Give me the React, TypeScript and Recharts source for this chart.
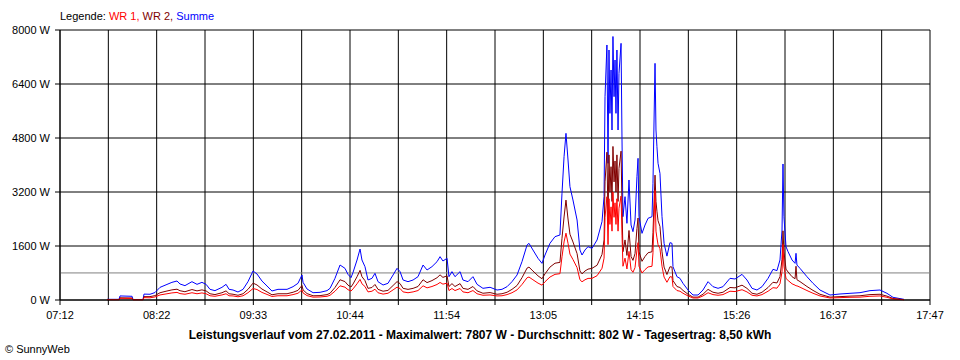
import React from "react";
import { LineChart, Line, XAxis, YAxis, CartesianGrid, ReferenceLine } from "recharts";

// time in minutes since midnight
const times = [
  466.3, 475.1, 475.8, 484.6, 485.3, 492.6, 493.3, 497.7, 501.3, 505.0, 509.4, 513.7, 517.4, 519.6, 523.2, 528.3, 532.0, 535.6, 538.6, 541.5,
  545.1, 550.2, 553.2, 555.4, 558.3, 561.9, 565.6, 569.2, 572.9, 575.8, 579.4, 583.1, 586.7, 591.1, 597.7, 602.1, 605.7, 608.6, 609.4, 612.3,
  616.7, 621.8, 626.9, 629.1, 632.7, 636.4, 640.0, 642.2, 644.4, 645.9, 648.8, 651.0, 652.4, 654.6, 656.8, 659.7, 661.9, 664.1, 667.8, 671.4,
  675.1, 678.0, 680.2, 682.4, 686.0, 689.7, 693.3, 697.0, 699.9, 703.5, 707.2, 709.4, 711.5, 714.5, 715.9, 718.1, 720.3, 724.0, 726.1, 729.8,
  733.4, 736.4, 740.7, 745.9, 751.0, 754.6, 758.3, 761.9, 765.6, 769.2, 772.9, 774.3, 777.2, 780.9, 783.8, 786.0, 789.6, 793.3, 796.9, 798.4,
  799.9, 801.3, 802.8, 804.2, 806.4, 809.4, 811.5, 813.0, 815.2, 817.4, 820.3, 824.0, 827.6, 829.1, 829.8, 831.2, 832.0, 832.7, 833.4, 834.2,
  834.9, 835.6, 836.4, 837.1, 837.8, 838.5, 839.3, 840.0, 841.5, 842.2, 842.9, 844.4, 845.8, 847.3, 848.8, 850.2, 851.7, 853.1, 853.9, 854.6,
  856.8, 859.0, 861.2, 864.1, 864.8, 866.3, 867.0, 867.7, 868.5, 869.9, 871.4, 872.9, 875.0, 877.2, 878.7, 879.4, 882.3, 884.5, 886.7, 890.4,
  894.0, 897.7, 901.3, 905.0, 908.6, 912.3, 915.9, 921.0, 924.7, 929.8, 933.4, 937.1, 940.7, 944.4, 948.8, 952.4, 955.3, 957.5, 959.0, 959.7,
  960.4, 961.9, 963.4, 966.3, 968.5, 969.2, 969.9, 972.1, 977.2, 981.6, 986.7, 994.0, 1001.3, 1008.6, 1015.9, 1023.2, 1030.5, 1035.6, 1040.0, 1048.0,
];

const summe = [
  20, 20, 120, 110, 15, 15, 175, 170, 220, 375, 450, 523, 563, 474, 425, 543, 464, 523, 464, 316,
  277, 375, 464, 316, 296, 237, 316, 543, 859, 770, 563, 415, 267, 316, 316, 395, 494, 741, 523, 326,
  217, 227, 277, 346, 642, 1037, 938, 760, 662, 820, 1185, 1511, 1185, 988, 593, 642, 790, 543, 444, 494,
  741, 938, 840, 593, 543, 593, 691, 1037, 889, 988, 1136, 1284, 1156, 1235, 691, 840, 691, 840, 593, 543,
  691, 464, 346, 376, 296, 316, 395, 543, 741, 1136, 1630, 1679, 1482, 1235, 1086, 1333, 1679, 1877, 1926, 3160,
  4247, 4938, 4148, 3358, 2963, 2370, 1482, 1333, 1482, 1580, 1531, 1778, 2321, 3062, 6025, 7556, 4050, 7407, 5530, 6815,
  5037, 7807, 6025, 7111, 5531, 7407, 5037, 6716, 7605, 4741, 2469, 3062, 2272, 3556, 2222, 2025, 2370, 3654, 4198, 2469,
  1975, 2222, 2420, 2469, 3457, 7012, 5037, 4543, 4050, 3753, 2469, 1679, 1300, 1699, 1679, 988, 691, 642, 494, 296,
  148, 148, 296, 543, 395, 346, 395, 642, 622, 760, 593, 346, 296, 395, 642, 909, 870, 1185, 2074, 4030,
  2469, 1580, 1432, 1185, 1086, 1383, 1036, 938, 691, 494, 296, 148, 178, 198, 217, 277, 296, 198, 79, 20,
];

const wr2 = [
  10, 10, 65, 60, 8, 8, 100, 100, 130, 215, 260, 300, 320, 275, 245, 310, 270, 300, 270, 185,
  160, 215, 270, 185, 170, 140, 185, 315, 500, 445, 325, 240, 155, 185, 185, 230, 285, 430, 300, 190,
  125, 130, 160, 200, 370, 600, 545, 440, 385, 475, 690, 880, 690, 575, 345, 370, 460, 315, 260, 285,
  430, 545, 485, 345, 315, 345, 400, 600, 515, 575, 660, 745, 670, 715, 400, 485, 400, 485, 345, 315,
  400, 270, 200, 220, 170, 185, 230, 315, 430, 660, 945, 975, 860, 715, 630, 775, 975, 1090, 1115, 1830,
  2460, 2960, 2400, 1950, 1720, 1375, 860, 775, 860, 915, 938, 1030, 1350, 1780, 3500, 4380, 2350, 4300, 3200, 3950,
  2920, 4550, 3500, 4120, 3200, 4300, 2920, 3900, 4410, 2750, 1430, 1780, 1320, 2060, 1290, 1175, 1375, 2120, 2430, 1430,
  1145, 1290, 1400, 1430, 2000, 3700, 2920, 2630, 2350, 2180, 1430, 975, 755, 985, 975, 575, 400, 370, 285, 170,
  85, 85, 170, 315, 230, 200, 230, 370, 360, 440, 345, 200, 170, 230, 370, 525, 505, 690, 1200, 2050,
  1430, 915, 830, 690, 630, 1000, 600, 545, 400, 285, 170, 85, 100, 115, 125, 160, 170, 115, 45, 10,
];

const wr1 = [
  10, 10, 50, 45, 7, 7, 70, 65, 90, 150, 180, 210, 225, 190, 170, 215, 185, 210, 185, 125,
  110, 150, 185, 125, 120, 95, 125, 215, 340, 310, 225, 165, 105, 125, 125, 160, 200, 300, 210, 130,
  85, 90, 110, 140, 260, 420, 380, 305, 265, 330, 480, 610, 480, 400, 240, 260, 320, 215, 175, 200,
  300, 380, 340, 240, 215, 240, 280, 420, 360, 400, 460, 520, 470, 500, 280, 340, 280, 340, 240, 215,
  280, 185, 140, 150, 120, 125, 160, 215, 300, 460, 660, 680, 600, 500, 440, 540, 680, 760, 780, 1280,
  1720, 1980, 1680, 1360, 1200, 960, 600, 540, 600, 640, 642, 720, 940, 1240, 2450, 3060, 1640, 3000, 2240, 2760,
  2040, 3200, 2450, 2880, 2240, 3000, 2040, 2720, 3080, 1920, 1000, 1240, 920, 1440, 900, 820, 960, 1480, 1700, 1000,
  800, 900, 980, 1000, 1400, 3250, 2040, 1840, 1640, 1520, 1000, 680, 525, 690, 680, 400, 280, 260, 200, 120,
  60, 60, 120, 215, 160, 140, 160, 260, 250, 305, 240, 140, 120, 160, 260, 365, 350, 480, 840, 1650,
  1000, 640, 580, 480, 440, 420, 420, 380, 280, 200, 120, 60, 70, 80, 85, 110, 120, 80, 30, 8,
];

const xTickLabels = ["07:12", "08:22", "09:33", "10:44", "11:54", "13:05", "14:15", "15:26", "16:37", "17:47"];
const yTicks = [0, 1600, 3200, 4800, 6400, 8000];
const averageW = 802;

const xStart = 432; // 07:12
const xEnd = 1067; // 17:47
const gridTicks = Array.from({ length: 19 }, (_, i) => xStart + (i * (xEnd - xStart)) / 18);

const rows = times.map((t, i) => ({ t, summe: summe[i], wr2: wr2[i], wr1: wr1[i] }));

const font = "'Liberation Sans', Arial, sans-serif";

export default function App() {
  return (
    <div style={{ position: "absolute", left: 0, top: 0, width: 960, height: 360, background: "#fff", fontFamily: font }}>
      <LineChart width={960} height={360} data={rows} margin={{ top: 30, right: 30, bottom: 30, left: 0 }}>
        <CartesianGrid stroke="#000" strokeWidth={1} />
        <XAxis
          dataKey="t"
          type="number"
          domain={[xStart, xEnd]}
          ticks={gridTicks}
          interval={0}
          height={30}
          tickSize={5}
          tickMargin={6}
          stroke="#000"
          tick={{ fill: "#000", fontSize: 11, fontFamily: font }}
          tickFormatter={(v: number) => {
            const idx = gridTicks.findIndex((g) => Math.abs(g - v) < 0.01);
            return idx % 2 === 0 ? xTickLabels[idx / 2] : "";
          }}
        />
        <YAxis
          type="number"
          domain={[0, 8000]}
          ticks={yTicks}
          interval={0}
          width={60}
          tickSize={5}
          tickMargin={5}
          stroke="#000"
          tick={{ fill: "#000", fontSize: 11, fontFamily: font }}
          tickFormatter={(v: number) => `${v} W`}
        />
        <ReferenceLine y={averageW} stroke="#808080" strokeWidth={1} />
        <Line type="linear" dataKey="summe" stroke="#0000ff" strokeWidth={1} dot={false} activeDot={false} isAnimationActive={false} />
        <Line type="linear" dataKey="wr2" stroke="#800000" strokeWidth={1} dot={false} activeDot={false} isAnimationActive={false} />
        <Line type="linear" dataKey="wr1" stroke="#ff0000" strokeWidth={1} dot={false} activeDot={false} isAnimationActive={false} />
      </LineChart>
      <div style={{ position: "absolute", left: 60, top: 9, fontSize: 11, lineHeight: "14px", whiteSpace: "pre" }}>
        <span style={{ color: "#000" }}>Legende: </span>
        <span style={{ color: "#ff0000" }}>WR 1, </span>
        <span style={{ color: "#800000" }}>WR 2, </span>
        <span style={{ color: "#0000ff" }}>Summe</span>
      </div>
      <div style={{ position: "absolute", left: 0, width: 960, top: 328, textAlign: "center", fontSize: 12, fontWeight: "bold", lineHeight: "15px", whiteSpace: "pre" }}>
        Leistungsverlauf vom 27.02.2011 - Maximalwert: 7807 W - Durchschnitt: 802 W - Tagesertrag: 8,50 kWh
      </div>
      <div style={{ position: "absolute", left: 5, top: 342, fontSize: 11, lineHeight: "14px", whiteSpace: "pre" }}>
        © SunnyWeb
      </div>
    </div>
  );
}
